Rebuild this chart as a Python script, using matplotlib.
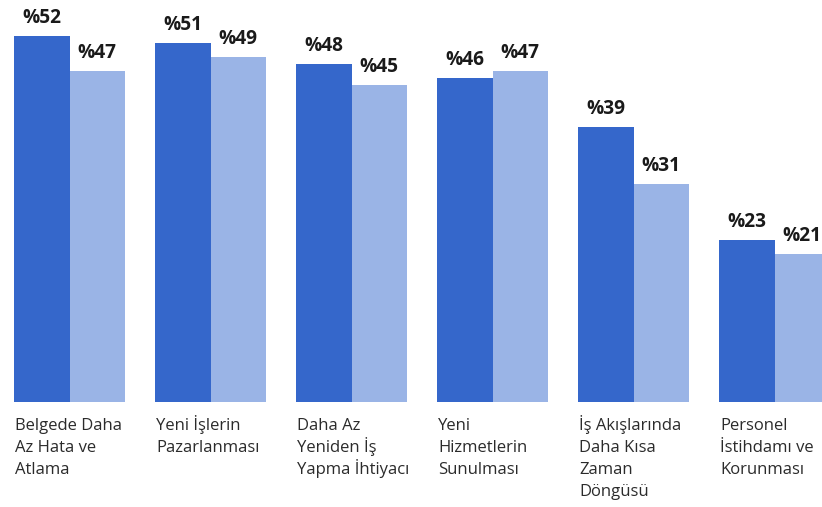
import matplotlib
matplotlib.use("Agg")
import matplotlib.pyplot as plt
import numpy as np

categories = [
    "Belgede Daha\nAz Hata ve\nAtlama",
    "Yeni İşlerin\nPazarlanması",
    "Daha Az\nYeniden İş\nYapma İhtiyacı",
    "Yeni\nHizmetlerin\nSunulması",
    "İş Akışlarında\nDaha Kısa\nZaman\nDöngüsü",
    "Personel\nİstihdamı ve\nKorunması",
]
series_dark = [52, 51, 48, 46, 39, 23]
series_light = [47, 49, 45, 47, 31, 21]

DARK = "#3567CB"
LIGHT = "#9AB4E6"

plt.rcParams['font.family'] = ['Open Sans', 'DejaVu Sans']

W, H = 822, 507
fig = plt.figure(figsize=(W / 100, H / 100), dpi=100)
bottom_px = 402
ax = fig.add_axes([0, 1 - bottom_px / H, 1, bottom_px / H])

x = np.arange(len(categories))
bw = 55.5 / 141
ax.bar(x - bw / 2, series_dark, width=bw, color=DARK, linewidth=0)
ax.bar(x + bw / 2, series_light, width=bw, color=LIGHT, linewidth=0)

for xi, v in zip(x - bw / 2, series_dark):
    ax.annotate(f"%{v}", (xi, v), xytext=(0, 9.5), textcoords="offset points",
                ha="center", va="baseline", fontsize=13.8, fontweight="bold",
                color="#1a1a1a")
for xi, v in zip(x + bw / 2, series_light):
    ax.annotate(f"%{v}", (xi, v), xytext=(0, 9.5), textcoords="offset points",
                ha="center", va="baseline", fontsize=13.8, fontweight="bold",
                color="#1a1a1a")

line_step_pt = 22 * 72 / 100
first_base_pt = 28 * 72 / 100
for xi, lab in zip(x - bw, categories):
    for k, line in enumerate(lab.split("\n")):
        ax.annotate(line, (xi, 0),
                    xytext=(1, -(first_base_pt + k * line_step_pt)),
                    textcoords="offset points",
                    ha="left", va="baseline", fontsize=12, color="#2b2b2b",
                    annotation_clip=False)

ax.set_xlim(-69.5 / 141, (822 - 69.5) / 141)
ax.set_ylim(0, bottom_px / 7.04)
ax.axis("off")

fig.savefig("out.png", dpi=100)
